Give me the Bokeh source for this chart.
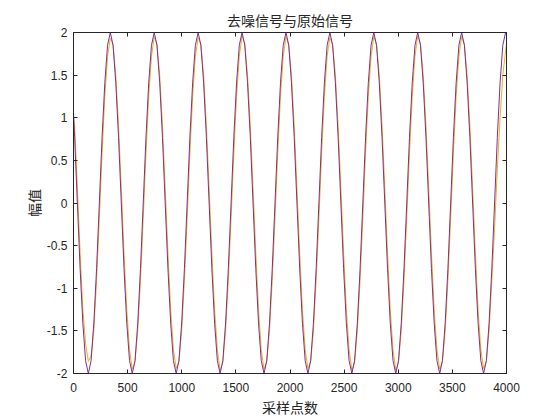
from bokeh.plotting import figure
from bokeh.models import LinearAxis, FixedTicker, Range1d
from bokeh.embed import file_html
from bokeh.resources import INLINE

# sample positions (x) shared by both series
sample_x = [
    0, 10.4, 35.7, 61.1, 86.4, 111.8, 137.1, 162.5, 187.9, 213.2, 238.6, 263.9, 289.3, 314.6,
    340.0, 365.4, 390.7, 416.1, 441.4, 466.8, 492.1, 517.5, 542.9, 568.2, 593.6, 618.9, 644.3, 669.6, 695.0, 720.3,
    745.7, 771.1, 796.4, 821.8, 847.1, 872.5, 897.8, 923.2, 948.6, 973.9, 999.3, 1024.6, 1050.0, 1075.3, 1100.7, 1126.0,
    1151.4, 1176.8, 1202.1, 1227.5, 1252.8, 1278.2, 1303.5, 1328.9, 1354.3, 1379.6, 1405.0, 1430.3, 1455.7, 1481.0, 1506.4, 1531.7,
    1557.1, 1582.5, 1607.8, 1633.2, 1658.5, 1683.9, 1709.2, 1734.6, 1760.0, 1785.3, 1810.7, 1836.0, 1861.4, 1886.7, 1912.1, 1937.4,
    1962.8, 1988.2, 2013.5, 2038.9, 2064.2, 2089.6, 2114.9, 2140.3, 2165.7, 2191.0, 2216.4, 2241.7, 2267.1, 2292.4, 2317.8, 2343.1,
    2368.5, 2393.9, 2419.2, 2444.6, 2469.9, 2495.3, 2520.6, 2546.0, 2571.4, 2596.7, 2622.1, 2647.4, 2672.8, 2698.1, 2723.5, 2748.8,
    2774.2, 2799.6, 2824.9, 2850.3, 2875.6, 2901.0, 2926.3, 2951.7, 2977.1, 3002.4, 3027.8, 3053.1, 3078.5, 3103.8, 3129.2, 3154.5,
    3179.9, 3205.3, 3230.6, 3256.0, 3281.3, 3306.7, 3332.0, 3357.4, 3382.8, 3408.1, 3433.5, 3458.8, 3484.2, 3509.5, 3534.9, 3560.2,
    3585.6, 3611.0, 3636.3, 3661.7, 3687.0, 3712.4, 3737.7, 3763.1, 3788.5, 3813.8, 3839.2, 3864.5, 3889.9, 3915.2, 3940.6, 3965.9,
    3991.3, 4000,
]

# original signal (purple)
original_y = [
    1.05, 0.77, 0.0, -0.77, -1.41, -1.85, -2.0, -1.85, -1.41, -0.77, 0.0, 0.77, 1.41, 1.85,
    2.0, 1.85, 1.41, 0.77, 0.0, -0.77, -1.41, -1.85, -2.0, -1.85, -1.41, -0.77, 0.0, 0.77, 1.41, 1.85,
    2.0, 1.85, 1.41, 0.77, 0.0, -0.77, -1.41, -1.85, -2.0, -1.85, -1.41, -0.77, 0.0, 0.77, 1.41, 1.85,
    2.0, 1.85, 1.41, 0.77, 0.0, -0.77, -1.41, -1.85, -2.0, -1.85, -1.41, -0.77, 0.0, 0.77, 1.41, 1.85,
    2.0, 1.85, 1.41, 0.77, 0.0, -0.77, -1.41, -1.85, -2.0, -1.85, -1.41, -0.77, 0.0, 0.77, 1.41, 1.85,
    2.0, 1.85, 1.41, 0.77, 0.0, -0.77, -1.41, -1.85, -2.0, -1.85, -1.41, -0.77, 0.0, 0.77, 1.41, 1.85,
    2.0, 1.85, 1.41, 0.77, 0.0, -0.77, -1.41, -1.85, -2.0, -1.85, -1.41, -0.77, 0.0, 0.77, 1.41, 1.85,
    2.0, 1.85, 1.41, 0.77, 0.0, -0.77, -1.41, -1.85, -2.0, -1.85, -1.41, -0.77, 0.0, 0.77, 1.41, 1.85,
    2.0, 1.85, 1.41, 0.77, 0.0, -0.77, -1.41, -1.85, -2.0, -1.85, -1.41, -0.77, 0.0, 0.77, 1.41, 1.85,
    2.0, 1.85, 1.41, 0.77, 0.0, -0.77, -1.41, -1.85, -2.0, -1.85, -1.41, -0.77, 0.0, 0.77, 1.41, 1.85,
    2.0, 1.98,
]

# denoised signal (orange), slightly lagging and lower in amplitude
denoised_y = [
    1.00, 0.91, 0.18, -0.58, -1.25, -1.65, -1.86, -1.79, -1.50, -0.91, -0.18, 0.58, 1.25, 1.72,
    1.93, 1.86, 1.50, 0.91, 0.18, -0.58, -1.25, -1.72, -1.95, -1.86, -1.50, -0.91, -0.18, 0.58, 1.25, 1.72,
    1.95, 1.86, 1.50, 0.91, 0.18, -0.58, -1.25, -1.72, -1.94, -1.86, -1.50, -0.91, -0.18, 0.58, 1.25, 1.72,
    1.94, 1.86, 1.50, 0.91, 0.18, -0.58, -1.25, -1.72, -1.96, -1.87, -1.50, -0.91, -0.18, 0.58, 1.25, 1.72,
    1.96, 1.87, 1.50, 0.91, 0.18, -0.58, -1.25, -1.72, -1.95, -1.86, -1.50, -0.91, -0.18, 0.58, 1.25, 1.72,
    1.95, 1.86, 1.50, 0.91, 0.18, -0.58, -1.25, -1.72, -1.94, -1.86, -1.50, -0.91, -0.18, 0.58, 1.25, 1.72,
    1.94, 1.86, 1.50, 0.91, 0.18, -0.58, -1.25, -1.72, -1.96, -1.87, -1.50, -0.91, -0.18, 0.58, 1.25, 1.72,
    1.95, 1.86, 1.50, 0.91, 0.18, -0.58, -1.25, -1.72, -1.96, -1.87, -1.50, -0.91, -0.18, 0.58, 1.25, 1.72,
    1.96, 1.87, 1.50, 0.91, 0.18, -0.58, -1.25, -1.72, -1.95, -1.86, -1.50, -0.91, -0.18, 0.58, 1.25, 1.72,
    1.95, 1.86, 1.50, 0.91, 0.18, -0.58, -1.25, -1.72, -1.94, -1.86, -1.50, -0.91, -0.30, 0.40, 1.00, 1.50,
    1.78, 1.87,
]

x_ticks = [0, 500, 1000, 1500, 2000, 2500, 3000, 3500, 4000]
y_ticks = [-2, -1.5, -1, -0.5, 0, 0.5, 1, 1.5, 2]
y_tick_labels = ["-2", "-1.5", "-1", "-0.5", "0", "0.5", "1", "1.5", "2"]

title_text = "去噪信号与原始信号"
x_label = "采样点数"
y_label = "幅值"

AX = "#262626"
CJK = "Noto Sans CJK SC"
LAT = "Liberation Sans"

p = figure(width=556, height=420, output_backend="svg", toolbar_location=None,
           x_range=Range1d(0, 4000), y_range=Range1d(-2, 2),
           min_border_left=73, min_border_right=50, min_border_top=32, min_border_bottom=47,
           title=title_text)

p.title.text_font = CJK
p.title.text_font_size = "14px"
p.title.text_font_style = "normal"
p.title.text_color = AX
p.title.align = "center"
p.title.standoff = 6

p.xgrid.visible = False
p.ygrid.visible = False
p.outline_line_color = AX
p.outline_line_width = 1
p.background_fill_color = "white"
p.border_fill_color = "white"


def style_axis(ax, ticks, show_labels):
    ax.ticker = FixedTicker(ticks=ticks)
    ax.major_tick_in = 4
    ax.major_tick_out = 0
    ax.minor_tick_in = 0
    ax.minor_tick_out = 0
    ax.axis_line_color = AX
    ax.major_tick_line_color = AX
    ax.major_label_text_color = AX
    ax.major_label_text_font = LAT
    ax.major_label_text_font_size = "12px"
    if not show_labels:
        ax.major_label_overrides = {t: "" for t in ticks}
        ax.major_label_standoff = 0


style_axis(p.xaxis[0], x_ticks, True)
style_axis(p.yaxis[0], y_ticks, True)
p.yaxis[0].major_label_overrides = {t: s for t, s in zip(y_ticks, y_tick_labels)}
p.xaxis[0].major_label_standoff = 9
p.yaxis[0].major_label_standoff = 6

p.xaxis[0].axis_label = x_label
p.yaxis[0].axis_label = y_label
for ax in (p.xaxis[0], p.yaxis[0]):
    ax.axis_label_text_font = CJK
    ax.axis_label_text_font_size = "14px"
    ax.axis_label_text_font_style = "normal"
    ax.axis_label_text_color = AX
p.xaxis[0].axis_label_standoff = 2
p.yaxis[0].axis_label_standoff = 0

top_axis = LinearAxis()
style_axis(top_axis, x_ticks, False)
p.add_layout(top_axis, "above")
right_axis = LinearAxis()
style_axis(right_axis, y_ticks, False)
p.add_layout(right_axis, "right")

p.line(sample_x, denoised_y, line_color="#EDB120", line_width=1)
p.line(sample_x, original_y, line_color="#7E2F8E", line_width=1)

open("out.html", "w").write(file_html(p, INLINE))
